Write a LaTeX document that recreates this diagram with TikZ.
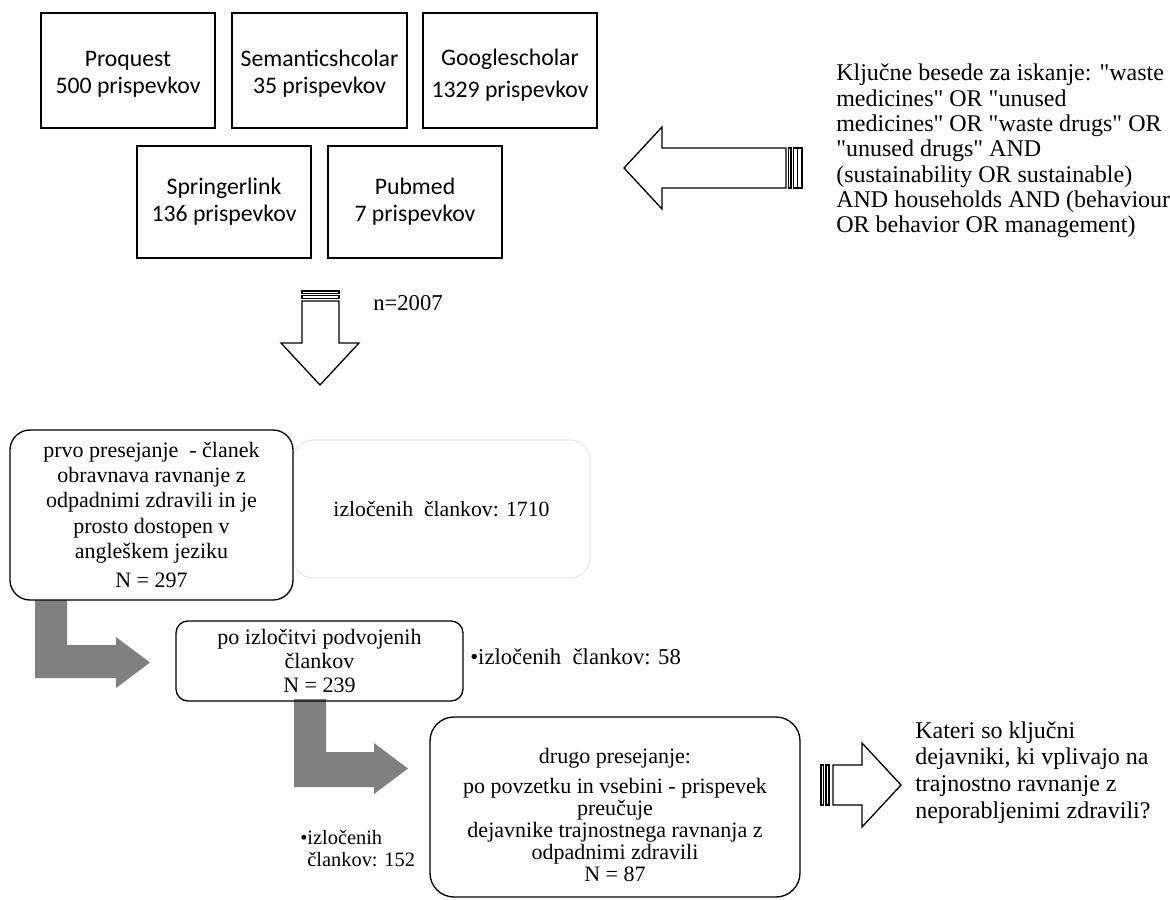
\documentclass[tikz,border=0pt]{standalone}
\usepackage{fontspec}
\setmainfont{Liberation Serif}[Ligatures=TeXOff]
\newfontfamily\calfont{Carlito}
\usetikzlibrary{calc}
\definecolor{arrowgrey}{HTML}{808080}
\definecolor{faintline}{HTML}{EBEBEB}
\newcommand\tightlines{\lineskiplimit=-100pt\relax}
\begin{document}
\begin{tikzpicture}[x=0.75pt,y=-0.75pt,
  srcbox/.style={draw, line width=1.1pt, inner sep=0pt, align=center,
    minimum width=130.5pt, font=\calfont\fontsize{17.8}{20}\selectfont},
  rbox/.style={draw, line width=1pt, inner sep=0pt, align=center},
  txt/.style={inner sep=0pt, align=left, anchor=west},
  blockarrow/.style={draw, line width=1pt, fill=white, line join=miter},
  stripebox/.style={draw, line width=0.8pt, fill=white},
  greyarrow/.style={fill=arrowgrey, draw=none},
]
\useasboundingbox (0,0) rectangle (1170,899);

% ---- source boxes
\node[srcbox, minimum height=86.25pt] (pq) at (128,70.5) {\rule{0pt}{17pt}Proquest\\500 prispevkov};
\node[srcbox, minimum width=131.25pt, minimum height=86.25pt] (sc) at (319.5,70.5) {\rule{0pt}{17pt}Semanticshcolar\\35 prispevkov};
\node[srcbox, minimum height=86.25pt, font=\calfont\fontsize{17.8}{24}\selectfont] (gs) at (510,70.5) {\rule{0pt}{19pt}Googlescholar\\1329 prispevkov};
\node[srcbox, minimum height=84pt] (sl) at (224,202) {Springerlink\\136 prispevkov};
\node[srcbox, minimum height=84pt] (pm) at (415,202) {Pubmed\\7 prispevkov};

% ---- keyword text and left arrow
\node[txt, font={\fontsize{18}{19}\selectfont\tightlines}] (kw) at (836,151)
  {Ključne besede za iskanje: "waste\\
   medicines" OR "unused\\
   medicines" OR "waste drugs" OR\\
   "unused drugs" AND\\
   (sustainability OR sustainable)\\
   AND households AND (behaviour\\
   OR behavior OR management)};
\draw[blockarrow] (624,168) -- (662,127) -- (662,148) -- (786,148) -- (786,188) -- (662,188) -- (662,209) -- cycle;
\draw[stripebox] (788.5,148) rectangle (791,188);
\draw[stripebox] (793.5,148) rectangle (802,188);
\draw[line width=0.6pt] (797.5,148) -- (797.5,188);

% ---- down arrow
\draw[stripebox] (302,291) rectangle (339,293.5);
\draw[stripebox] (302,295.5) rectangle (339,298.5);
\draw[blockarrow] (302,301) -- (339,301) -- (339,343) -- (359,343) -- (320,385) -- (281,343) -- (302,343) -- cycle;
\node[txt, font=\fontsize{17}{19}\selectfont] (n) at (373,303) {n=2007};

% ---- grey arrows
\fill[greyarrow] (35,598) -- (35,678) -- (116,678) -- (116,688) -- (150,662.5) -- (116,637) -- (116,645) -- (67,645) -- (67,598) -- cycle;
\fill[greyarrow] (294,699) -- (294,787) -- (374,787) -- (374,794) -- (408,768.5) -- (374,743) -- (374,752) -- (326,752) -- (326,699) -- cycle;

% ---- screening boxes
\node[draw=faintline, line width=1pt, rounded corners=15pt, inner sep=0pt,
  minimum width=222.75pt, minimum height=103.5pt,
  font=\fontsize{16.3}{19}\selectfont] (ex1) at (441.5,509) {izločenih\ \ člankov: 1710};
\node[rbox, fill=white, rounded corners=15pt, minimum width=212.25pt, minimum height=127.5pt,
  font=\fontsize{16.5}{19}\selectfont] (b1) at (151.5,515)
  {prvo presejanje\ \ - članek\\ obravnava ravnanje z\\ odpadnimi zdravili in je\\ prosto dostopen v\\ angleškem jeziku\\[3pt] N = 297};
\node[rbox, rounded corners=9pt, minimum width=215.25pt, minimum height=60pt,
  font=\fontsize{16.5}{18}\selectfont] (b2) at (319.5,661)
  {po izločitvi podvojenih\\ člankov\\ N = 239};
\node[txt, font=\fontsize{17}{19}\selectfont] (ex2) at (470,657) {•izločenih\ \ člankov: 58};
\node[rbox, rounded corners=18pt, minimum width=277.5pt, minimum height=135pt,
  font=\fontsize{16.5}{16.4}\selectfont] (b3) at (615,807)
  {\rule{0pt}{23pt}drugo presejanje:\\[6.5pt] po povzetku in vsebini - prispevek\\ preučuje\\ dejavnike trajnostnega ravnanja z\\ odpadnimi zdravili\\ N = 87};
\node[txt, font=\fontsize{15.3}{16.5}\selectfont] (ex3) at (300,849) {•izločenih\\\phantom{•}člankov: 152};

% ---- right arrow and question
\draw[stripebox] (821,765) rectangle (823.5,805);
\draw[stripebox] (826,765) rectangle (829,805);
\draw[blockarrow] (833,765) -- (862,765) -- (862,743) -- (901,785) -- (862,827) -- (862,805) -- (833,805) -- cycle;
\node[txt, font=\fontsize{18}{20}\selectfont] (q) at (915,772.5)
  {Kateri so ključni\\ dejavniki, ki vplivajo na\\ trajnostno ravnanje z\\ neporabljenimi zdravili?};
\end{tikzpicture}
\end{document}
